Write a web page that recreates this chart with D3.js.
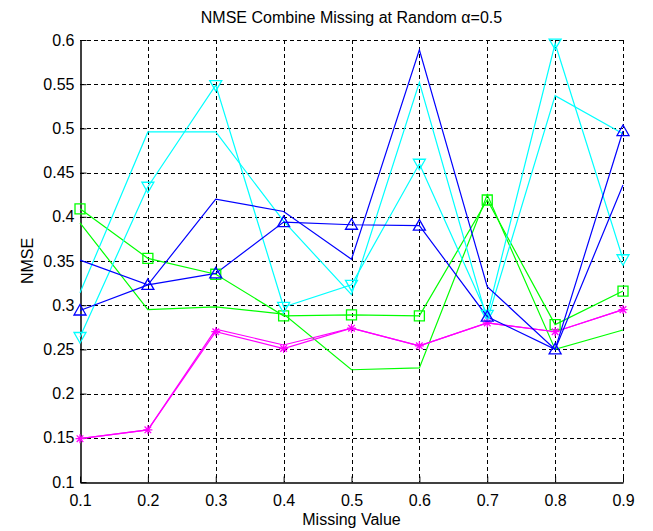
<!DOCTYPE html>
<html>
<head>
<meta charset="utf-8">
<script src="https://cdn.jsdelivr.net/npm/d3@7"></script>
<style>
  html, body { margin: 0; padding: 0; background: #fff; }
  text { font-family: "Liberation Sans", Arial, sans-serif; fill: #000; }
</style>
</head>
<body>
<svg id="chart" width="653" height="531"></svg>
<script>
// ---- data ----
const missing = [0.1, 0.2, 0.3, 0.4, 0.5, 0.6, 0.7, 0.8, 0.9];
const xTickLabels = ["0.1","0.2","0.3","0.4","0.5","0.6","0.7","0.8","0.9"];
const yTicks = [0.1, 0.15, 0.2, 0.25, 0.3, 0.35, 0.4, 0.45, 0.5, 0.55, 0.6];
const yTickLabels = ["0.1","0.15","0.2","0.25","0.3","0.35","0.4","0.45","0.5","0.55","0.6"];

const blueTri    = [0.294, 0.323, 0.336, 0.394, 0.391, 0.390, 0.287, 0.250, 0.497];
const bluePlain  = [0.351, 0.323, 0.420, 0.406, 0.352, 0.589, 0.321, 0.250, 0.436];
const cyanTri    = [0.264, 0.434, 0.549, 0.298, 0.323, 0.460, 0.289, 0.596, 0.352];
const cyanPlain  = [0.314, 0.496, 0.496, 0.395, 0.312, 0.552, 0.283, 0.537, 0.494];
const greenSq    = [0.409, 0.353, 0.335, 0.288, 0.289, 0.288, 0.419, 0.278, 0.316];
const greenPlain = [0.393, 0.295, 0.298, 0.290, 0.227, 0.229, 0.425, 0.250, 0.272];
const magStar    = [0.149, 0.159, 0.270, 0.251, 0.274, 0.254, 0.280, 0.270, 0.295];
const magPlain   = [0.149, 0.159, 0.273, 0.255, 0.274, 0.254, 0.280, 0.270, 0.295];

const series = [
  { values: greenPlain, color: "#00ff00", marker: null },
  { values: greenSq,    color: "#00ff00", marker: "square" },
  { values: cyanPlain,  color: "#00ffff", marker: null },
  { values: cyanTri,    color: "#00ffff", marker: "down" },
  { values: magPlain,   color: "#ff00ff", marker: null },
  { values: magStar,    color: "#ff00ff", marker: "star" },
  { values: bluePlain,  color: "#0000ff", marker: null },
  { values: blueTri,    color: "#0000ff", marker: "up" }
];

// ---- layout ----
const L = 80, R = 623, T = 40, B = 482;
const svg = d3.select("#chart");
const x = d3.scaleLinear().domain([0.1, 0.9]).range([L, R]);
const y = d3.scaleLinear().domain([0.1, 0.6]).range([B, T]);

// grid
const grid = svg.append("g");
grid.selectAll("line.v").data(missing.slice(1)).enter().append("line")
  .attr("x1", d => Math.round(x(d)) + 0.5).attr("x2", d => Math.round(x(d)) + 0.5)
  .attr("y1", T).attr("y2", B)
  .attr("stroke", "#000").attr("stroke-width", 1).attr("stroke-dasharray", "4,3");
grid.selectAll("line.h").data(yTicks.slice(1)).enter().append("line")
  .attr("y1", d => Math.round(y(d)) + 0.5).attr("y2", d => Math.round(y(d)) + 0.5)
  .attr("x1", L).attr("x2", R)
  .attr("stroke", "#000").attr("stroke-width", 1).attr("stroke-dasharray", "4,3");

// axes
const xAxis = d3.axisBottom(x).tickValues(missing).tickFormat((d, i) => xTickLabels[i])
  .tickSizeInner(-6).tickSizeOuter(0).tickPadding(12);
const yAxis = d3.axisLeft(y).tickValues(yTicks).tickFormat((d, i) => yTickLabels[i])
  .tickSizeInner(-6).tickSizeOuter(0).tickPadding(6);

const gx = svg.append("g").attr("transform", `translate(0,${B + 0.5})`).call(xAxis);
const gy = svg.append("g").attr("transform", `translate(${L + 0.5},0)`).call(yAxis);
[gx, gy].forEach(g => {
  g.select(".domain").attr("stroke", "#000").attr("stroke-width", 1.5);
  g.selectAll(".tick line").attr("stroke", "#000");
  g.selectAll(".tick text").attr("font-size", 16).attr("fill", "#000")
    .style("font-family", '"Liberation Sans", Arial, sans-serif');
});

// series lines
const line = d3.line().x((d, i) => x(missing[i])).y(d => y(d));
const plot = svg.append("g");
series.forEach(s => {
  plot.append("path").datum(s.values)
    .attr("d", line).attr("fill", "none")
    .attr("stroke", s.color).attr("stroke-width", 1.2);
});

// markers
const markerPath = {
  up:     "M0,-6L6,4.5L-6,4.5Z",
  down:   "M0,6L6,-4.5L-6,-4.5Z",
  square: "M-5,-5H5V5H-5Z",
  star:   "M-4.5,0H4.5M0,-4.5V4.5M-3.3,-3.3L3.3,3.3M-3.3,3.3L3.3,-3.3"
};
series.filter(s => s.marker).forEach(s => {
  plot.selectAll(null).data(s.values).enter().append("path")
    .attr("transform", (d, i) => `translate(${x(missing[i])},${y(d)})`)
    .attr("d", markerPath[s.marker])
    .attr("fill", "none").attr("stroke", s.color).attr("stroke-width", 1.3);
});

// title and labels
svg.append("text").attr("x", (L + R) / 2).attr("y", 23)
  .attr("text-anchor", "middle").attr("font-size", 16)
  .text("NMSE Combine Missing at Random α=0.5");
svg.append("text").attr("x", (L + R) / 2).attr("y", 525)
  .attr("text-anchor", "middle").attr("font-size", 16)
  .text("Missing Value");
svg.append("text").attr("transform", `translate(33,${(T + B) / 2}) rotate(-90)`)
  .attr("text-anchor", "middle").attr("font-size", 16)
  .text("NMSE");
</script>
</body>
</html>
